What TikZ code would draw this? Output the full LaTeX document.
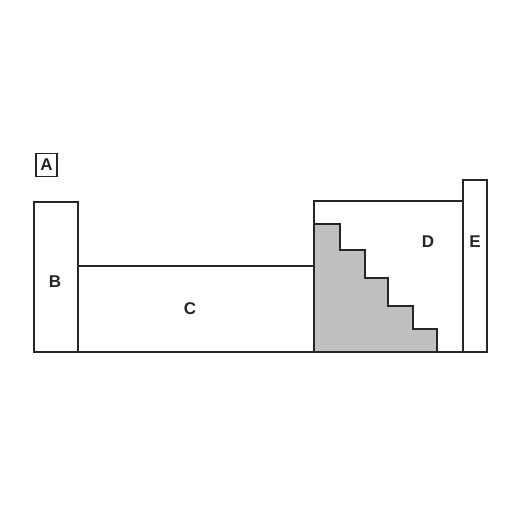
\documentclass[tikz,border=0pt]{standalone}
\usepackage{fontspec}
\setmainfont{Liberation Sans}
\begin{document}
\begin{tikzpicture}[x=1pt,y=-1pt,
  wall/.style={draw=black!85, line width=1.4pt},
  lbl/.style={font=\fontsize{17}{17}\selectfont\bfseries, text=black!85, inner sep=0pt},
  stair/.style={draw=black!85, line width=1.4pt, fill=black!25}]
\useasboundingbox (0,0) rectangle (512,512);
\fill[white] (0,0) rectangle (512,512);
% staircase
\draw[stair] (314,352) -- (314,224) -- (340,224) -- (340,250) -- (365,250) -- (365,278) -- (388,278) -- (388,306) -- (413,306) -- (413,329) -- (437,329) -- (437,352) -- cycle;
% C
\draw[wall] (78,266) rectangle (314,352);
% D
\draw[wall] (314,352) -- (314,201) -- (463,201);
% B
\draw[wall] (34,202) rectangle (78,352);
% E
\draw[wall] (463,180) rectangle (487,352);
% bottom line
\draw[wall] (34,352) -- (487,352);
% labels
\node[lbl, draw=black!85, line width=1.4pt, minimum width=21pt, minimum height=23pt] (A) at (46.5,165) {A};
\node[lbl] (B) at (55,282) {B};
\node[lbl] (C) at (190,309) {C};
\node[lbl] (D) at (428,242) {D};
\node[lbl] (E) at (475,242) {E};
\end{tikzpicture}
\end{document}
